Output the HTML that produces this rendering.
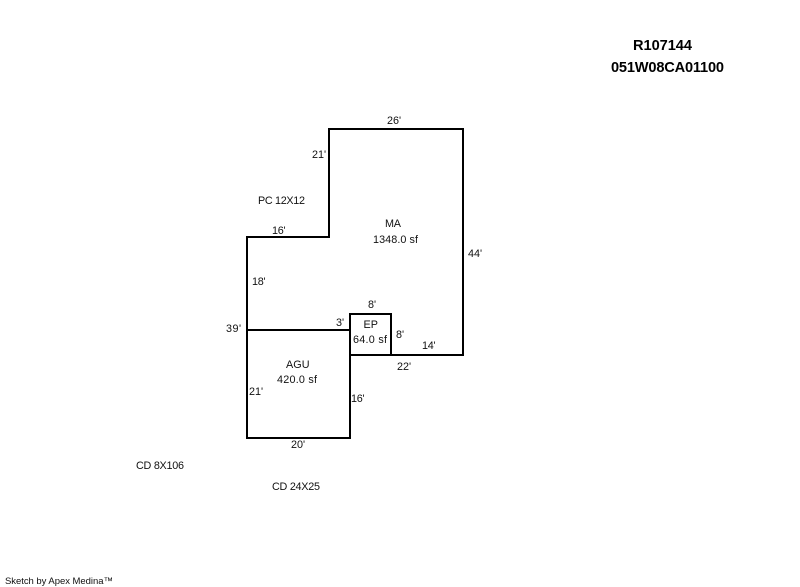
<!DOCTYPE html>
<html>
<head>
<meta charset="utf-8">
<style>
html,body{margin:0;padding:0;background:#fff;width:800px;height:587px;overflow:hidden}
svg{display:block}
text{font-family:"Liberation Sans",Arial,sans-serif;font-size:10.8px;fill:#111}
.b{font-weight:bold;font-size:14.6px;fill:#000}
.s{font-size:9.5px}
</style>
</head>
<body>
<svg width="800" height="587" viewBox="0 0 800 587" xmlns="http://www.w3.org/2000/svg">
<g fill="none" stroke="#000" stroke-width="2" shape-rendering="crispEdges">
<path d="M247 237H329V129H463V355H350V438H247Z"/>
<path d="M247 330H350V355M350 330V314H391V355"/>
</g>
<text class="b" x="633" y="50" textLength="59">R107144</text>
<text class="b" x="611" y="72" textLength="113">051W08CA01100</text>
<text x="387" y="124" textLength="14">26'</text>
<text x="312" y="158" textLength="14">21'</text>
<text x="258" y="204" textLength="47">PC 12X12</text>
<text x="272" y="234" textLength="13.5">16'</text>
<text x="385" y="227" textLength="16">MA</text>
<text x="373" y="243" textLength="45">1348.0 sf</text>
<text x="468" y="257" textLength="14">44'</text>
<text x="252" y="285" textLength="13.5">18'</text>
<text x="368" y="308" textLength="8">8'</text>
<text x="226" y="332" textLength="15">39'</text>
<text x="336" y="326" textLength="8">3'</text>
<text x="363.5" y="328" textLength="14.5">EP</text>
<text x="353" y="343" textLength="34">64.0 sf</text>
<text x="396" y="338" textLength="8">8'</text>
<text x="422" y="349" textLength="13.5">14'</text>
<text x="397" y="370" textLength="14">22'</text>
<text x="286" y="368" textLength="23.5">AGU</text>
<text x="277" y="383" textLength="40">420.0 sf</text>
<text x="249" y="395" textLength="14">21'</text>
<text x="351" y="402" textLength="13.5">16'</text>
<text x="291" y="448" textLength="14">20'</text>
<text x="136" y="469" textLength="48">CD 8X106</text>
<text x="272" y="490" textLength="48">CD 24X25</text>
<text class="s" x="5" y="584" textLength="108">Sketch by Apex Medina™</text>
</svg>
</body>
</html>
